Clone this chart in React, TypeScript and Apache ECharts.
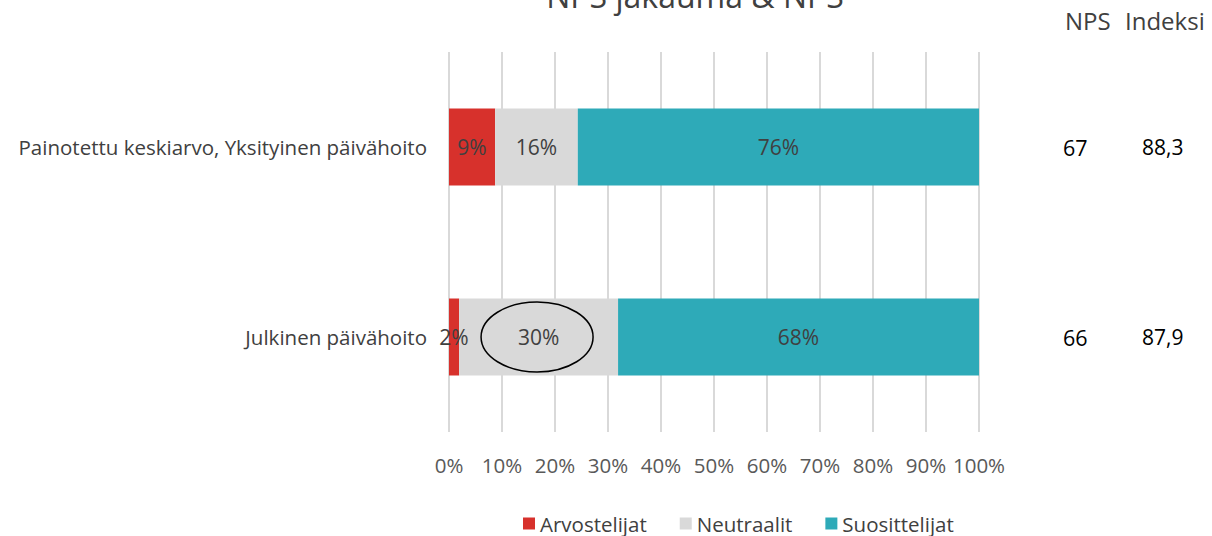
import React, { useEffect, useRef } from "react";
import * as echarts from "echarts";

const categories = ["Painotettu keskiarvo, Yksityinen päivähoito", "Julkinen päivähoito"];
const arvostelijat = [8.7, 1.9];
const neutraalit = [15.6, 30.0];
const suosittelijat = [75.7, 68.1];
const npsValues = ["67", "66"];
const indeksiValues = ["88,3", "87,9"];
const xTicks = [0, 10, 20, 30, 40, 50, 60, 70, 80, 90, 100];

const FONT = "'Open Sans', 'Noto Sans', sans-serif";

export default function App() {
  const ref = useRef<HTMLDivElement>(null);
  useEffect(() => {
    if (!ref.current) return;
    const chart = echarts.init(ref.current, undefined, { renderer: "svg" });
    const labelStyle = {
      show: true,
      position: "inside",
      color: "#404040",
      fontSize: 21,
      fontFamily: FONT,
      formatter: (p: any) => Math.round(p.value) + "%",
    };
    const headers = [
      { type: "text", left: 1065, top: 8, style: { text: "NPS", fontSize: 24, fill: "#404040", fontFamily: FONT } },
      { type: "text", left: 1125, top: 8, style: { text: "Indeksi", fontSize: 24, fill: "#404040", fontFamily: FONT } },
    ];
    chart.setOption({
      animation: false,
      textStyle: { fontFamily: FONT },
      title: {
        text: "NPS jakauma & NPS",
        left: 690,
        textAlign: "center",
        top: -26,
        textStyle: { fontSize: 32, fontWeight: "normal", color: "#404040", fontFamily: FONT },
      },
      grid: { left: 449, right: 233, top: 52, bottom: 104, containLabel: false },
      xAxis: {
        type: "value",
        min: xTicks[0],
        max: xTicks[xTicks.length - 1],
        interval: 10,
        axisLine: { show: false },
        axisTick: { show: false },
        splitLine: { show: true, lineStyle: { color: "#d9d9d9", width: 2 } },
        axisLabel: { formatter: "{value}%", color: "#595959", fontSize: 20.5, margin: 22, fontFamily: FONT },
      },
      yAxis: [
        {
          type: "category",
          data: categories,
          inverse: true,
          axisLine: { show: false },
          axisTick: { show: false },
          axisLabel: { color: "#404040", fontSize: 20.5, margin: 22, fontFamily: FONT },
        },
        {
          type: "category",
          data: categories,
          inverse: true,
          position: "right",
          offset: 84,
          axisLine: { show: false },
          axisTick: { show: false },
          splitLine: { show: false },
          axisLabel: {
            formatter: (_v: string, i: number) => npsValues[i],
            align: "left",
            margin: 0,
            color: "#000",
            fontSize: 21.5,
            fontFamily: FONT,
          },
        },
        {
          type: "category",
          data: categories,
          inverse: true,
          position: "right",
          offset: 163,
          axisLine: { show: false },
          axisTick: { show: false },
          splitLine: { show: false },
          axisLabel: {
            formatter: (_v: string, i: number) => indeksiValues[i],
            align: "left",
            margin: 0,
            color: "#000",
            fontSize: 21,
            fontFamily: FONT,
          },
        },
      ],
      legend: {
        left: 523,
        top: 513,
        padding: 0,
        itemWidth: 12,
        itemHeight: 12,
        itemGap: 33,
        icon: "rect",
        textStyle: { color: "#404040", fontSize: 20.5, lineHeight: 21, fontFamily: FONT },
        data: ["Arvostelijat", "Neutraalit", "Suosittelijat"],
      },
      series: [
        { name: "Arvostelijat", type: "bar", stack: "a", barWidth: 77, data: arvostelijat, itemStyle: { color: "#D7312C" }, label: labelStyle },
        { name: "Neutraalit", type: "bar", stack: "a", barWidth: 77, data: neutraalit, itemStyle: { color: "#D9D9D9" }, label: labelStyle },
        { name: "Suosittelijat", type: "bar", stack: "a", barWidth: 77, data: suosittelijat, itemStyle: { color: "#2EAAB8" }, label: labelStyle },
      ],
      graphic: headers,
    });
    const cx = arvostelijat[1] + neutraalit[1] / 2;
    const c = chart.convertToPixel({ xAxisIndex: 0, yAxisIndex: 0 }, [cx, 1]) as number[];
    chart.setOption({
      graphic: [
        ...headers,
        { type: "ellipse", shape: { cx: c[0] - 1.5, cy: c[1], rx: 56, ry: 35 }, style: { fill: "none", stroke: "#000", lineWidth: 1.5 }, z: 10 },
      ],
    });
    return () => chart.dispose();
  }, []);
  return <div ref={ref} style={{ width: 1212, height: 536, position: "absolute", left: 0, top: 0 }} />;
}
